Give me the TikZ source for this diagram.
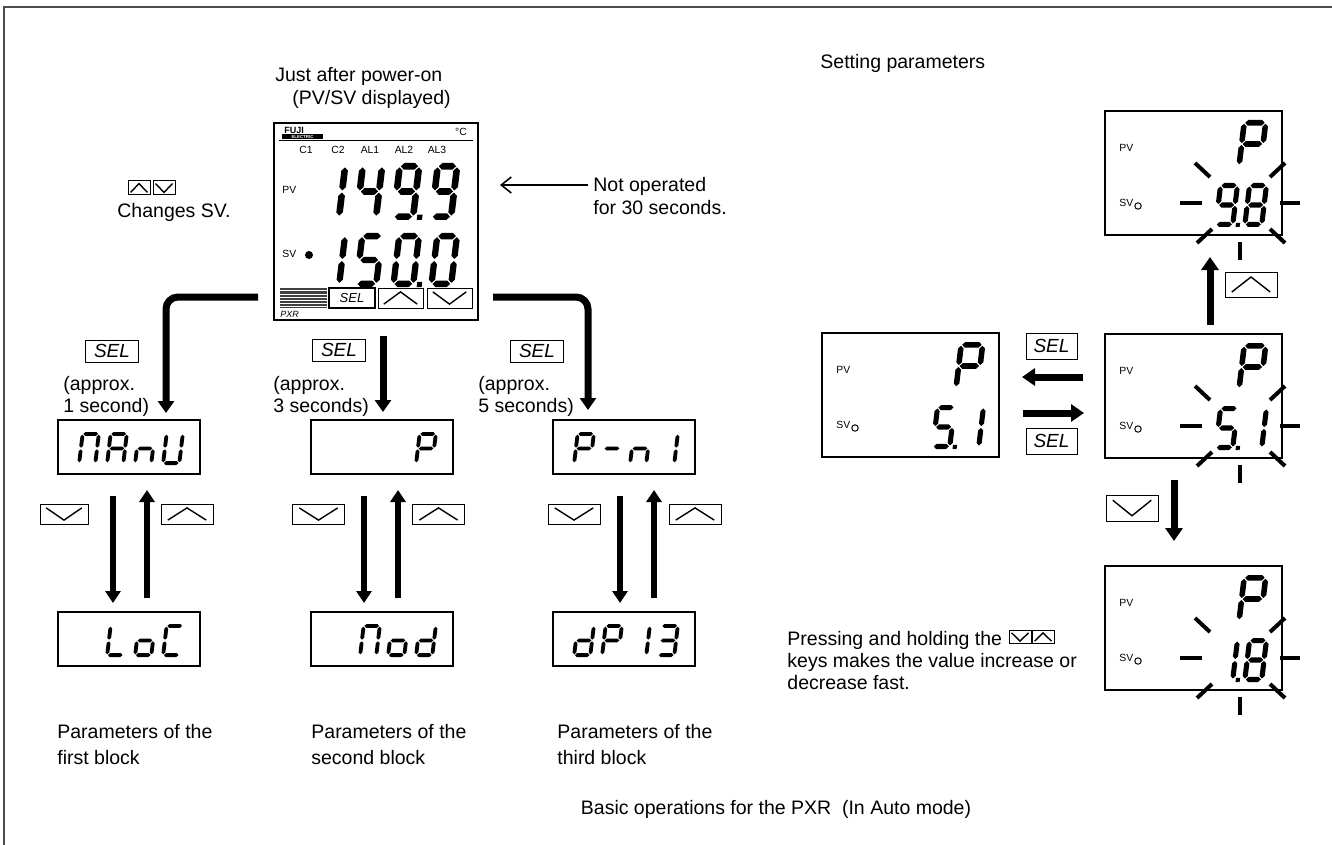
\documentclass[tikz,border=0pt]{standalone}
\usepackage{fontspec}
\setmainfont{Liberation Sans}
\usetikzlibrary{arrows.meta,calc}

% seven-segment helpers
\newcommand\segH[3]{\fill (#1+\sgG,#3) -- (#1+\sgG+\sgT,#3+\sgT) -- (#2-\sgG-\sgT,#3+\sgT) -- (#2-\sgG,#3) -- (#2-\sgG-\sgT,#3-\sgT) -- (#1+\sgG+\sgT,#3-\sgT) -- cycle;}
\newcommand\segV[3]{\fill (#1,#2+\sgG) -- (#1+\sgT,#2+\sgG+\sgT) -- (#1+\sgT,#3-\sgG-\sgT) -- (#1,#3-\sgG) -- (#1-\sgT,#3-\sgG-\sgT) -- (#1-\sgT,#2+\sgG+\sgT) -- cycle;}
\pgfkeys{/sev/.is family,
 /sev/a/.code={\segH{\sgT}{\sgW-\sgT}{\sgH-\sgT}},
 /sev/b/.code={\segV{\sgW-\sgT}{\sgM}{\sgH-\sgT}},
 /sev/c/.code={\segV{\sgW-\sgT}{\sgT}{\sgM}},
 /sev/d/.code={\segH{\sgT}{\sgW-\sgT}{\sgT}},
 /sev/e/.code={\segV{\sgT}{\sgT}{\sgM}},
 /sev/f/.code={\segV{\sgT}{\sgM}{\sgH-\sgT}},
 /sev/g/.code={\segH{\sgT}{\sgW-\sgT}{\sgM}},
 /sev/p/.code={\fill (\sgW+0.2*\sgT,0) rectangle ++(1.6*\sgT,1.6*\sgT);},
}
\newcommand\sevseg[5]{\begin{scope}[shift={(#1,#2)},xslant=0.12,yscale=-1]
 \pgfmathsetmacro\sgH{#3}\pgfmathsetmacro\sgW{#4}\pgfmathsetmacro\sgM{#3/2}%
 \pgfmathsetmacro\sgT{0.058*#3}\pgfmathsetmacro\sgG{0.012*#3+0.4}%
 \pgfkeys{/sev/.cd,#5}\end{scope}}

\newcommand\KeyUp[4]{%
 \node[keybox, minimum width=#3, minimum height=#4] (#1) at #2 {};
 \draw[chev] ([shift={(0.14*#3,0.22*#4)}]#1.south west) -- ([shift={(0,-0.22*#4)}]#1.north) -- ([shift={(-0.14*#3,0.22*#4)}]#1.south east);}
\newcommand\KeyDn[4]{%
 \node[keybox, minimum width=#3, minimum height=#4] (#1) at #2 {};
 \draw[chev] ([shift={(0.14*#3,-0.22*#4)}]#1.north west) -- ([shift={(0,0.22*#4)}]#1.south) -- ([shift={(-0.14*#3,-0.22*#4)}]#1.north east);}

% right-hand display: name, X, Y (top-left), digit1, digit2
\newcommand\rdisp[5]{%
 \node[rlcd] (#1) at (#2+88.5,#3+62) {};
 \node[tiny, anchor=west] (#1pv) at (#2+14,#3+37) {PV};
 \node[tiny, anchor=west] (#1sv) at (#2+14,#3+92) {SV};
 \draw[line width=0.5pt] (#2+33,#3+95) circle[radius=1.6pt];
 \sevseg{#2+131}{#3+57}{48}{27}{a,b,e,f,g}
 \sevseg{#2+108}{#3+116}{44}{22}{#4}
 \sevseg{#2+137}{#3+116}{44}{22}{#5}}
\newcommand\rays[2]{%
 \draw[ray] (#1+75,#2+92) -- (#1+97,#2+92);
 \draw[ray] (#1+175,#2+92) -- (#1+195,#2+92);
 \draw[ray] (#1+90,#2+52) -- (#1+105,#2+66);
 \draw[ray] (#1+165,#2+66) -- (#1+180,#2+52);
 \draw[ray] (#1+92,#2+132) -- (#1+107,#2+118);
 \draw[ray] (#1+165,#2+118) -- (#1+180,#2+132);
 \draw[ray] (#1+135,#2+131) -- (#1+135,#2+149);}

\begin{document}
\begin{tikzpicture}[x=0.5pt,y=-0.5pt,
 txt/.style={font=\fontsize{9.75}{12}\selectfont, inner sep=0pt, anchor=base west},
 tiny/.style={font=\fontsize{5.2}{6}\selectfont, inner sep=0pt},
 lcd/.style={draw, line width=1.2pt, inner sep=0pt, minimum width=71pt, minimum height=27pt},
 rlcd/.style={draw, line width=1.2pt, inner sep=0pt, minimum width=88.5pt, minimum height=62pt},
 selbox/.style={draw, line width=0.5pt, inner sep=0pt, font=\fontsize{9.5}{10}\selectfont\itshape, minimum width=26.5pt, minimum height=11pt},
 keybox/.style={draw, line width=0.5pt, inner sep=0pt},
 chev/.style={line width=0.7pt},
 selconn/.style={line width=3.5pt, rounded corners=6pt, -{Triangle[length=6pt,width=8pt]}},
 blkarrow/.style={line width=3pt, -{Triangle[length=6pt,width=7.5pt]}},
 bigarrow/.style={line width=3.5pt, -{Triangle[length=6.5pt,width=8.5pt]}},
 ray/.style={line width=2pt},
 frameln/.style={line width=1pt, black!70},
]
\useasboundingbox (0,0) rectangle (1332,845);
\draw[frameln] (4,845) -- (4,7) -- (1332,7);

% ---- titles
\node[txt] (t1) at (275,82) {Just after power-on};
\node[txt] (t2) at (292,105) {(PV/SV displayed)};
\node[txt] (t3) at (820,69) {Setting parameters};
\node[txt] (t4) at (593,192) {Not operated};
\node[txt] (t5) at (593,214) {for 30 seconds.};
\node[txt] (t6) at (117,218) {Changes SV.};
\KeyUp{cku}{(139,188)}{11pt}{7pt}
\KeyDn{ckd}{(164,188)}{11pt}{7pt}
\coordinate (na) at (588,185);
\coordinate (nb) at (500,185);
\draw[line width=0.8pt, -{Straight Barb[length=5pt,width=8pt]}] (na) -- (nb);

% ---- main device
\node[draw, line width=1.2pt, minimum width=102pt, minimum height=98.5pt, inner sep=0pt] (dev) at (376,221.5) {};
\draw[line width=0.5pt] (279,141) -- (473,141);
\node[font=\fontsize{4.5}{5}\selectfont\bfseries, inner sep=0pt, anchor=west] (fuji) at (284,130.5) {FUJI};
\fill (282,134.5) rectangle (323,139);
\node[font=\fontsize{2.2}{2.5}\selectfont\bfseries, text=white, inner sep=0pt] (elec) at (302.5,136.8) {ELECTRIC};
\node[tiny] (degc) at (461,132) {°C};
\node[tiny] (lc1) at (306,150) {C1};
\node[tiny] (lc2) at (338,150) {C2};
\node[tiny] (la1) at (370,150) {AL1};
\node[tiny] (la2) at (404,150) {AL2};
\node[tiny] (la3) at (437,150) {AL3};
\node[tiny, anchor=west] (dpv) at (282,190) {PV};
\node[tiny, anchor=west] (dsv) at (282,254) {SV};
\fill (309,255) circle[radius=2pt];
\sevseg{316}{220}{57}{26}{b,c}
\sevseg{353}{220}{57}{26}{b,c,f,g}
\sevseg{390}{220}{57}{26}{a,b,c,d,f,g,p}
\sevseg{428}{220}{57}{26}{a,b,c,d,f,g}
\sevseg{316}{287}{54}{26}{b,c}
\sevseg{353}{287}{54}{26}{a,c,d,f,g}
\sevseg{390}{287}{54}{26}{a,b,c,d,e,f,p}
\sevseg{428}{287}{54}{26}{a,b,c,d,e,f}
\foreach \i in {0,...,13} \draw[line width=0.35pt, black!75] (280,288+1.45*\i) -- (327,288+1.45*\i);
\node[draw, line width=0.7pt, inner sep=0pt, minimum width=23pt, minimum height=10pt, font=\fontsize{6.5}{7}\selectfont\itshape] (dsel) at (352,298) {SEL};
\KeyUp{dup}{(400.5,298)}{22.5pt}{10pt}
\KeyDn{ddn}{(449.5,298)}{22.5pt}{10pt}
\node[font=\fontsize{4.5}{5}\selectfont\itshape, inner sep=0pt, anchor=west] (pxr) at (280,314) {PXR};

% ---- SEL connectors
\coordinate (c1a) at (258,297); \coordinate (c1b) at (166,413);
\coordinate (c2a) at (383,336); \coordinate (c2b) at (383,412);
\coordinate (c3a) at (493,297); \coordinate (c3b) at (588,410);
\draw[selconn] (c1a) -| (c1b);
\draw[selconn] (c2a) -- (c2b);
\draw[selconn] (c3a) -| (c3b);
\node[selbox] (s1) at (112,351) {SEL};
\node[selbox] (s2) at (339,350) {SEL};
\node[selbox] (s3) at (537,351) {SEL};
\node[txt] (a1) at (63,390) {(approx.};
\node[txt] (a1b) at (63,412) {1 second)};
\node[txt] (a2) at (273,390) {(approx.};
\node[txt] (a2b) at (273,412) {3 seconds)};
\node[txt] (a3) at (478,390) {(approx.};
\node[txt] (a3b) at (478,412) {5 seconds)};

% ---- block displays
\node[lcd] (b1t) at (129,447) {};
\node[lcd] (b2t) at (382,447) {};
\node[lcd] (b3t) at (624,447) {};
\node[lcd] (b1b) at (129,639) {};
\node[lcd] (b2b) at (382,639) {};
\node[lcd] (b3b) at (624,639) {};
% MAnU
\sevseg{77}{465}{33}{20}{a,b,c,e,f}
\sevseg{105}{465}{33}{20}{a,b,c,e,f,g}
\sevseg{133}{465}{33}{20}{c,e,g}
\sevseg{161}{465}{33}{20}{b,c,d,e,f}
% P
\sevseg{414}{465}{33}{20}{a,b,e,f,g}
% P-n1
\sevseg{572}{465}{33}{20}{a,b,e,f,g}
\sevseg{600}{465}{33}{20}{g}
\sevseg{628}{465}{33}{20}{c,e,g}
\sevseg{656}{465}{33}{20}{b,c}
% LoC
\sevseg{105}{657}{33}{20}{d,e,f}
\sevseg{133}{657}{33}{20}{c,d,e,g}
\sevseg{161}{657}{33}{20}{a,d,e,f}
% Mod
\sevseg{358}{657}{33}{20}{a,b,c,e,f}
\sevseg{386}{657}{33}{20}{c,d,e,g}
\sevseg{414}{657}{33}{20}{b,c,d,e,g}
% dP13
\sevseg{572}{657}{33}{20}{b,c,d,e,g}
\sevseg{600}{657}{33}{20}{a,b,e,f,g}
\sevseg{628}{657}{33}{20}{b,c}
\sevseg{656}{657}{33}{20}{a,b,c,d,g}

% block arrows and keys
\foreach \dx/\ux/\n in {113/147/1,364/398/2,620/654/3}{
  \coordinate (d\n a) at (\dx,496); \coordinate (d\n b) at (\dx,603);
  \coordinate (u\n a) at (\ux,598); \coordinate (u\n b) at (\ux,490);
  \draw[blkarrow] (d\n a) -- (d\n b);
  \draw[blkarrow] (u\n a) -- (u\n b);
}
\KeyDn{k1d}{(64,514)}{24pt}{10pt}
\KeyUp{k1u}{(187,514)}{26pt}{10pt}
\KeyDn{k2d}{(318.5,514)}{26pt}{10pt}
\KeyUp{k2u}{(438.5,514)}{26pt}{10pt}
\KeyDn{k3d}{(574,514)}{26pt}{10pt}
\KeyUp{k3u}{(695,514)}{26pt}{10pt}

\node[txt] (p1a) at (57,738) {Parameters of the};
\node[txt] (p1b) at (57,764) {first block};
\node[txt] (p2a) at (311,738) {Parameters of the};
\node[txt] (p2b) at (311,764) {second block};
\node[txt] (p3a) at (557,738) {Parameters of the};
\node[txt] (p3b) at (557,764) {third block};

% ---- right side
\rdisp{rT}{1105}{111}{a,b,c,d,f,g,p}{a,b,c,d,e,f,g}
\rays{1105}{111}
\rdisp{rM}{1105}{334}{a,c,d,f,g,p}{b,c}
\rays{1105}{334}
\rdisp{rL}{822}{333}{a,c,d,f,g,p}{b,c}
\rdisp{rB}{1105}{566}{b,c,p}{a,b,c,d,e,f,g}
\rays{1105}{566}

\coordinate (ua) at (1210,325); \coordinate (ub) at (1210,257);
\draw[bigarrow] (ua) -- (ub);
\KeyUp{rku}{(1251,284.5)}{26pt}{12.5pt}
\coordinate (da) at (1174,480); \coordinate (db) at (1174,541);
\draw[bigarrow] (da) -- (db);
\KeyDn{rkd}{(1132,508)}{26pt}{13pt}
\coordinate (la) at (1083,377); \coordinate (lb) at (1022,377);
\draw[bigarrow] (la) -- (lb);
\coordinate (ra) at (1023,413); \coordinate (rb) at (1084,413);
\draw[bigarrow] (ra) -- (rb);
\node[selbox, minimum width=25.5pt, minimum height=13pt] (rs1) at (1051.5,346) {SEL};
\node[selbox, minimum width=25.5pt, minimum height=13pt] (rs2) at (1051.5,441) {SEL};

\node[txt] (h1) at (787,645) {Pressing and holding the};
\KeyDn{hk1}{(1020,637)}{11pt}{6.5pt}
\KeyUp{hk2}{(1043,637)}{11pt}{6.5pt}
\node[txt] (h2) at (787,667) {keys makes the value increase or};
\node[txt] (h3) at (787,689) {decrease fast.};

\node[font=\fontsize{9.75}{12}\selectfont, inner sep=0pt, anchor=base] (cap) at (776,814) {Basic operations for the PXR\ \ (In Auto mode)};
\end{tikzpicture}
\end{document}
